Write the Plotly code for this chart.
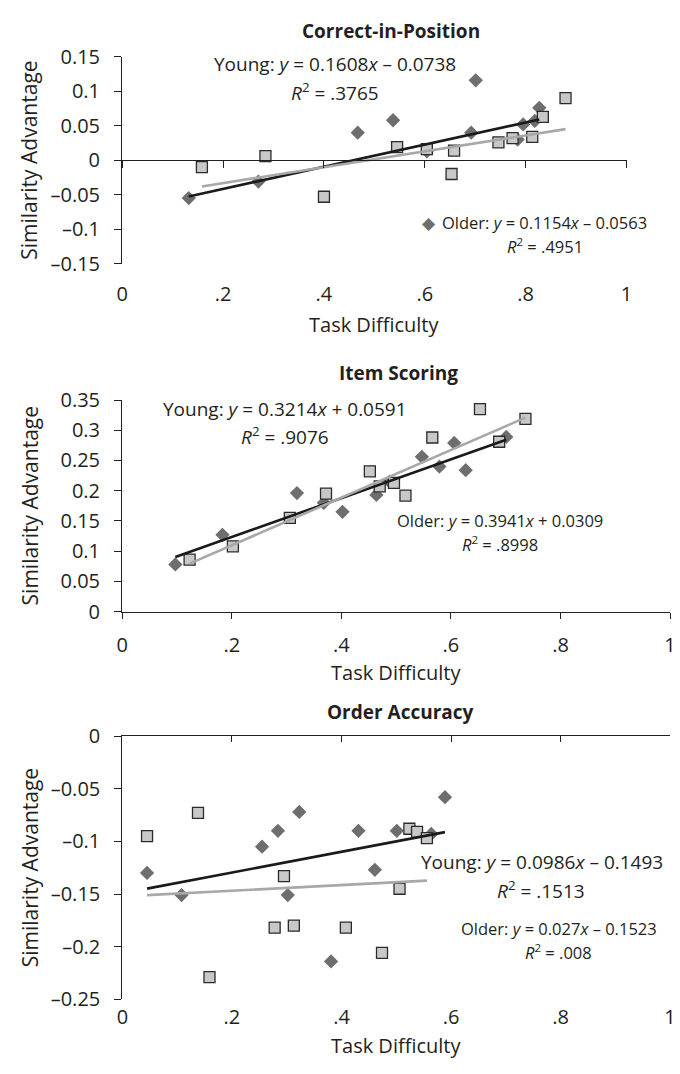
import plotly.graph_objects as go

W, H = 680, 1074
FONT = "Open Sans"
AXC = "#231f20"
DIA_C = "#6e6e6e"
SQ_FILL = "#c8c8c8"
SQ_LINE = "#2b2b2b"
BLACK_LINE = "#1a1a1a"
GRAY_LINE = "#a8a8a8"

# ---------------- data ----------------
# Panel 1: Correct-in-Position
p1_dia_x = [0.132, 0.270, 0.467, 0.537, 0.604, 0.692, 0.701, 0.784, 0.795, 0.818, 0.827]
p1_dia_y = [-0.055, -0.031, 0.040, 0.058, 0.013, 0.040, 0.116, 0.030, 0.052, 0.057, 0.076]
p1_sq_x = [0.158, 0.284, 0.400, 0.545, 0.604, 0.653, 0.658, 0.746, 0.774, 0.813, 0.834, 0.879]
p1_sq_y = [-0.010, 0.006, -0.053, 0.019, 0.016, -0.020, 0.014, 0.026, 0.032, 0.034, 0.063, 0.090]
p1_young = (0.1608, -0.0738)
p1_older = (0.1154, -0.0563)
p1_young_txt = ("Young: <i>y</i> = 0.1608<i>x</i> \u2013 0.0738", "<i>R</i><sup>2</sup> = .3765")
p1_older_txt = ("Older: <i>y</i> = 0.1154<i>x</i> \u2013 0.0563", "<i>R</i><sup>2</sup> = .4951")

# Panel 2: Item Scoring
p2_dia_x = [0.097, 0.183, 0.319, 0.368, 0.402, 0.464, 0.488, 0.547, 0.579, 0.606, 0.627, 0.701]
p2_dia_y = [0.078, 0.127, 0.196, 0.180, 0.165, 0.193, 0.215, 0.256, 0.240, 0.279, 0.234, 0.289]
p2_sq_x = [0.123, 0.202, 0.306, 0.372, 0.452, 0.470, 0.496, 0.517, 0.566, 0.653, 0.688, 0.736]
p2_sq_y = [0.086, 0.108, 0.155, 0.195, 0.232, 0.207, 0.213, 0.192, 0.288, 0.335, 0.281, 0.319]
p2_young = (0.3214, 0.0591)
p2_older = (0.3941, 0.0309)
p2_young_txt = ("Young: <i>y</i> = 0.3214<i>x</i> + 0.0591", "<i>R</i><sup>2</sup> = .9076")
p2_older_txt = ("Older: <i>y</i> = 0.3941<i>x</i> + 0.0309", "<i>R</i><sup>2</sup> = .8998")

# Panel 3: Order Accuracy
p3_dia_x = [0.045, 0.108, 0.255, 0.284, 0.302, 0.323, 0.381, 0.431, 0.461, 0.501, 0.564, 0.589]
p3_dia_y = [-0.130, -0.151, -0.105, -0.090, -0.151, -0.072, -0.214, -0.090, -0.127, -0.090, -0.093, -0.058]
p3_sq_x = [0.045, 0.138, 0.159, 0.278, 0.295, 0.313, 0.408, 0.474, 0.506, 0.524, 0.538, 0.556]
p3_sq_y = [-0.095, -0.073, -0.229, -0.182, -0.133, -0.180, -0.182, -0.206, -0.145, -0.088, -0.091, -0.097]
p3_young = (0.0986, -0.1493)
p3_older = (0.027, -0.1523)
p3_young_txt = ("Young: <i>y</i> = 0.0986<i>x</i> \u2013 0.1493", "<i>R</i><sup>2</sup> = .1513")
p3_older_txt = ("Older: <i>y</i> = 0.027<i>x</i> \u2013 0.1523", "<i>R</i><sup>2</sup> = .008")

titles = ["Correct-in-Position", "Item Scoring", "Order Accuracy"]
x_title = "Task Difficulty"
y_title = "Similarity Advantage"

x_tickvals = [0, 0.2, 0.4, 0.6, 0.8, 1.0]
x_ticktext = ["0", ".2", ".4", ".6", ".8", "1"]
p1_yvals = [0.15, 0.1, 0.05, 0, -0.05, -0.1, -0.15]
p1_ytext = ["0.15", "0.1", "0.05", "0", "\u20130.05", "\u20130.1", "\u20130.15"]
p2_yvals = [0.35, 0.3, 0.25, 0.2, 0.15, 0.1, 0.05, 0]
p2_ytext = ["0.35", "0.3", "0.25", "0.2", "0.15", "0.1", "0.05", "0"]
p3_yvals = [0, -0.05, -0.1, -0.15, -0.2, -0.25]
p3_ytext = ["0", "\u20130.05", "\u20130.1", "\u20130.15", "\u20130.2", "\u20130.25"]

# ---------------- layout geometry (pixels) ----------------
def fx(p):
    return p / W

def fy(p):
    return 1 - p / H

panels = [
    dict(x0=118.3, x1=631.7, top=44, bot=256, yr=[-0.15, 0.15]),
    dict(x0=118.3, x1=676.0, top=396, bot=613, yr=[0, 0.35]),
    dict(x0=118.5, x1=676.0, top=740.7, bot=1010.7, yr=[-0.25, 0]),
]

fig = go.Figure()

def add_panel(i, dx, dy, sx, sy, young, older):
    xa = "x" if i == 1 else f"x{i}"
    ya = "y" if i == 1 else f"y{i}"
    fig.add_trace(go.Scatter(x=dx, y=dy, mode="markers", xaxis=xa, yaxis=ya,
                             marker=dict(symbol="diamond", size=11, color=DIA_C, line=dict(width=0)),
                             showlegend=False, hoverinfo="skip"))
    fig.add_trace(go.Scatter(x=sx, y=sy, mode="markers", xaxis=xa, yaxis=ya,
                             marker=dict(symbol="square", size=11, color=SQ_FILL,
                                         line=dict(width=1.3, color=SQ_LINE)),
                             showlegend=False, hoverinfo="skip"))
    bx = [min(dx), max(dx)]
    fig.add_trace(go.Scatter(x=bx, y=[young[0] * v + young[1] for v in bx], mode="lines",
                             xaxis=xa, yaxis=ya, line=dict(color=BLACK_LINE, width=2.6),
                             showlegend=False, hoverinfo="skip"))
    gx = [min(sx), max(sx)]
    fig.add_trace(go.Scatter(x=gx, y=[older[0] * v + older[1] for v in gx], mode="lines",
                             xaxis=xa, yaxis=ya, line=dict(color=GRAY_LINE, width=2.6),
                             showlegend=False, hoverinfo="skip"))

add_panel(1, p1_dia_x, p1_dia_y, p1_sq_x, p1_sq_y, p1_young, p1_older)
add_panel(2, p2_dia_x, p2_dia_y, p2_sq_x, p2_sq_y, p2_young, p2_older)
add_panel(3, p3_dia_x, p3_dia_y, p3_sq_x, p3_sq_y, p3_young, p3_older)
# empty traces to register the overlay axes that carry the crossing lines
fig.add_trace(go.Scatter(x=[], y=[], xaxis="x4", yaxis="y", showlegend=False))
fig.add_trace(go.Scatter(x=[], y=[], xaxis="x6", yaxis="y3", showlegend=False))

TXT = "#231f20"
tickfont = dict(family=FONT, size=20, color=TXT)

def yaxis(p, vals, text):
    return dict(domain=[fy(p["bot"]), fy(p["top"])], range=p["yr"], tickvals=vals, ticktext=text,
                showline=True, linecolor=AXC, linewidth=1.3, ticks="outside", ticklen=7,
                tickwidth=1.3, tickcolor=AXC, showgrid=False, zeroline=False,
                tickfont=tickfont, ticklabelstandoff=10)

P1, P2, P3 = panels
lay = dict(
    width=W, height=H, margin=dict(l=0, r=0, t=0, b=0),
    paper_bgcolor="white", plot_bgcolor="white", showlegend=False,
    font=dict(family=FONT, color=TXT, size=16),
)
# Panel 1 axes
lay["xaxis"] = dict(domain=[fx(P1["x0"]), fx(P1["x1"])], range=[0, 1], anchor="y",
                    tickvals=x_tickvals, ticktext=x_ticktext, showline=False, ticks="",
                    showgrid=False, zeroline=False, tickfont=tickfont, ticklabelstandoff=16)
lay["yaxis"] = dict(anchor="x", **yaxis(P1, p1_yvals, p1_ytext))
lay["xaxis4"] = dict(domain=[fx(P1["x0"]), fx(P1["x1"])], range=[0, 1], overlaying="x",
                     anchor="free", position=(fy(P1["bot"]) + fy(P1["top"])) / 2,
                     tickvals=x_tickvals, showticklabels=False, showline=True, linecolor=AXC,
                     linewidth=1.3, ticks="outside", ticklen=7, tickwidth=1.3, tickcolor=AXC,
                     showgrid=False, zeroline=False, tickfont=tickfont)
# Panel 2 axes
lay["xaxis2"] = dict(domain=[fx(P2["x0"]), fx(P2["x1"])], range=[0, 1], anchor="y2",
                     tickvals=x_tickvals, ticktext=x_ticktext, showline=True, linecolor=AXC,
                     linewidth=1.3, ticks="outside", ticklen=6, tickwidth=1.3, tickcolor=AXC,
                     showgrid=False, zeroline=False, tickfont=tickfont, ticklabelstandoff=9)
lay["yaxis2"] = dict(anchor="x2", **yaxis(P2, p2_yvals, p2_ytext))
# Panel 3 axes
lay["xaxis3"] = dict(domain=[fx(P3["x0"]), fx(P3["x1"])], range=[0, 1], anchor="y3",
                     tickvals=x_tickvals, ticktext=x_ticktext, showline=False, ticks="",
                     showgrid=False, zeroline=False, tickfont=tickfont, ticklabelstandoff=4)
lay["yaxis3"] = dict(anchor="x3", **yaxis(P3, p3_yvals, p3_ytext))
lay["xaxis6"] = dict(domain=[fx(P3["x0"]), fx(P3["x1"])], range=[0, 1], overlaying="x3",
                     anchor="y3", side="top", tickvals=x_tickvals, showticklabels=False,
                     showline=True, linecolor=AXC, linewidth=1.3, ticks="inside", ticklen=6,
                     tickwidth=1.3, tickcolor=AXC, showgrid=False, zeroline=False,
                     tickfont=tickfont)

ann = []
title_y = [17, 368, 716]
title_x = [392, 400, 402]
xt_y = [318, 675, 1058]
for p, t, tx, ty, xy in zip(panels, titles, title_x, title_y, xt_y):
    cx = (p["x0"] + p["x1"]) / 2
    ann.append(dict(text=f"<b>{t}</b>", xref="paper", yref="paper", x=fx(tx), y=fy(ty),
                    xanchor="center", yanchor="middle", showarrow=False,
                    font=dict(family=FONT, size=19, color=TXT)))
    ann.append(dict(text=x_title, xref="paper", yref="paper", x=fx(cx), y=fy(xy),
                    xanchor="center", yanchor="middle", showarrow=False,
                    font=dict(family=FONT, size=20, color=TXT)))
    ann.append(dict(text=y_title, xref="paper", yref="paper", x=fx(24),
                    y=fy((p["top"] + p["bot"]) / 2), textangle=-90,
                    xanchor="center", yanchor="middle", showarrow=False,
                    font=dict(family=FONT, size=21, color=TXT)))

def eq(xr, yr, x, y, txt, size):
    ann.append(dict(text=txt, xref=xr, yref=yr, x=x, y=y, xanchor="center", yanchor="middle",
                    showarrow=False, font=dict(family=FONT, size=size, color=TXT)))

YS, OS = 19, 16.5
# panel 1
eq("x", "y", 0.422, 0.1391, p1_young_txt[0], YS)
eq("x", "y", 0.422, 0.0995, p1_young_txt[1], YS)
eq("x", "y", 0.838, -0.0904, p1_older_txt[0], OS)
eq("x", "y", 0.838, -0.1244, p1_older_txt[1], OS)
ann.append(dict(text="\u25c6", xref="x", yref="y", x=0.609, y=-0.0904, xanchor="center",
                yanchor="middle", showarrow=False,
                font=dict(family="DejaVu Sans", size=17, color=DIA_C)))
# panel 2
eq("x2", "y2", 0.297, 0.3359, p2_young_txt[0], YS)
eq("x2", "y2", 0.297, 0.2907, p2_young_txt[1], YS)
eq("x2", "y2", 0.690, 0.1504, p2_older_txt[0], OS)
eq("x2", "y2", 0.689, 0.1116, p2_older_txt[1], OS)
# panel 3
eq("x3", "y3", 0.767, -0.1198, p3_young_txt[0], YS)
eq("x3", "y3", 0.765, -0.1458, p3_young_txt[1], YS)
eq("x3", "y3", 0.797, -0.1832, p3_older_txt[0], OS)
eq("x3", "y3", 0.797, -0.2054, p3_older_txt[1], OS)

lay["annotations"] = ann
fig.update_layout(**lay)
fig.write_html("out.html")
